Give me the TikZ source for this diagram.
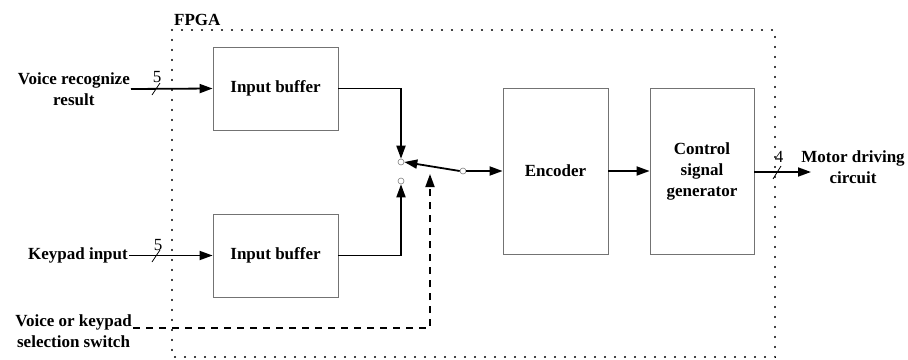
\documentclass[tikz,border=0pt]{standalone}
\usepackage{fontspec}
\setmainfont{Liberation Serif}
\usetikzlibrary{arrows.meta}
\begin{document}
\begin{tikzpicture}[x=1pt,y=-1pt,
  lbl/.style={font=\fontsize{17}{21}\selectfont\bfseries, align=center, inner sep=1pt},
  blk/.style={draw=black!55, line width=0.8pt, font=\fontsize{17}{21}\selectfont\bfseries, align=center, inner sep=0pt},
  bus/.style={line width=1.8pt, -{Triangle[length=13pt,width=9pt]}},
  selln/.style={line width=1.8pt, dash pattern=on 7pt off 6pt, -{Triangle[length=13pt,width=9pt]}},
  contact/.style={circle, draw=black!50, line width=0.6pt, fill=white, inner sep=0pt, minimum size=6pt},
  fpgaline/.style={line width=2.2pt, line cap=round, dash pattern=on 0.1pt off 9.9pt},
  num/.style={font=\fontsize{17}{19}\selectfont, inner sep=0pt}
]
\useasboundingbox (0,0) rectangle (908,359);
% FPGA frame
\draw[fpgaline] (172,30) rectangle (775,357);
\node[lbl, anchor=south west] (fpga) at (173,27) {FPGA};
% blocks
\node[blk, minimum width=125pt, minimum height=83pt] (buf1) at (275.5,88.5) {Input buffer};
\node[blk, minimum width=125pt, minimum height=83pt] (buf2) at (275.5,255.5) {Input buffer};
\node[blk, minimum width=105pt, minimum height=166pt] (enc) at (555.5,171) {Encoder};
\node[blk, minimum width=104pt, minimum height=166pt] (csg) at (702,171) {Control\\signal\\generator};
% external labels
\node[lbl, anchor=east] (vr) at (131,89) {Voice recognize\\result};
\node[lbl, anchor=east] (kp) at (129,255.5) {Keypad input};
\node[lbl, anchor=east] (sel) at (133,331) {Voice or keypad\\selection switch};
\node[lbl] (motor) at (853,167) {Motor driving\\circuit};
\coordinate (mtip) at (811,172);
% switch
\node[contact] (c1) at (401,162) {};
\node[contact] (c2) at (401,181) {};
\node[contact] (pv) at (463,171) {};
\coordinate (swtip) at (430,174);
% connectors
\draw[bus] (vr.east) -- (buf1.west);
\draw[bus] (kp.east) -- (buf2.west);
\draw[bus] (buf1.east) -| (c1.north);
\draw[bus] (buf2.east) -| (c2.south);
\draw[bus] (pv.west) -- (c1.east);
\draw[bus] (pv.east) -- (enc.west);
\draw[bus] (enc.east) -- (csg.west);
\draw[bus] (csg.east |- mtip) -- (mtip);
\draw[selln] (sel.east |- 0,328) -| (swtip);
% bus width marks
\draw[line width=0.8pt] (152,95) -- (160,83);
\node[num] at (157,77) {5};
\draw[line width=0.8pt] (152,262) -- (160,250);
\node[num] at (158,245) {5};
\draw[line width=0.8pt] (773,179) -- (781,166);
\node[num] at (779,157) {4};
\end{tikzpicture}
\end{document}
